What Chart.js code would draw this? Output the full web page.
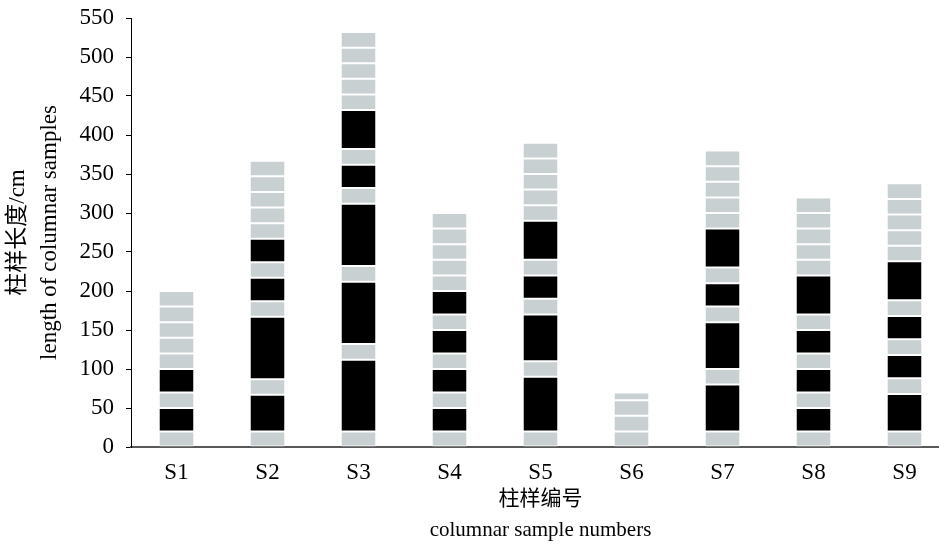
<!DOCTYPE html>
<html>
<head>
<meta charset="utf-8">
<script src="https://cdn.jsdelivr.net/npm/chart.js@4"></script>
<style>
  html, body { margin: 0; padding: 0; background: #fff; overflow: hidden; }
  #wrap { width: 950px; height: 549px; }
</style>
</head>
<body>
<div id="wrap"><canvas id="bar" width="950" height="549"></canvas></div>
<script>
var samples = ["S1", "S2", "S3", "S4", "S5", "S6", "S7", "S8", "S9"];
var yTicks = [0, 50, 100, 150, 200, 250, 300, 350, 400, 450, 500, 550];

// segment lengths (cm) from the bottom of each column, and their kind (g = grey, b = black)
var segS1 = [20, 30, 20, 30, 20, 20, 20, 20, 20];
var kindS1 = ["g", "b", "g", "b", "g", "g", "g", "g", "g"];
var segS2 = [20, 47, 20, 80, 20, 30, 20, 30, 20, 20, 20, 20, 20];
var kindS2 = ["g", "b", "g", "b", "g", "b", "g", "b", "g", "g", "g", "g", "g"];
var segS3 = [20, 92, 20, 80, 20, 80, 20, 30, 20, 50, 20, 20, 20, 20, 20];
var kindS3 = ["g", "b", "g", "b", "g", "b", "g", "b", "g", "b", "g", "g", "g", "g", "g"];
var segS4 = [20, 30, 20, 30, 20, 30, 20, 30, 20, 20, 20, 20, 20];
var kindS4 = ["g", "b", "g", "b", "g", "b", "g", "b", "g", "g", "g", "g", "g"];
var segS5 = [20, 70, 20, 60, 20, 30, 20, 50, 20, 20, 20, 20, 20];
var kindS5 = ["g", "b", "g", "b", "g", "b", "g", "b", "g", "g", "g", "g", "g"];
var segS6 = [20, 20, 20, 10];
var kindS6 = ["g", "g", "g", "g"];
var segS7 = [20, 60, 20, 60, 20, 30, 20, 50, 20, 20, 20, 20, 20];
var kindS7 = ["g", "b", "g", "b", "g", "b", "g", "b", "g", "g", "g", "g", "g"];
var segS8 = [20, 30, 20, 30, 20, 30, 20, 50, 20, 20, 20, 20, 20];
var kindS8 = ["g", "b", "g", "b", "g", "b", "g", "b", "g", "g", "g", "g", "g"];
var segS9 = [20, 48, 20, 30, 20, 30, 20, 50, 20, 20, 20, 20, 20];
var kindS9 = ["g", "b", "g", "b", "g", "b", "g", "b", "g", "g", "g", "g", "g"];

var segs = [segS1, segS2, segS3, segS4, segS5, segS6, segS7, segS8, segS9];
var kinds = [kindS1, kindS2, kindS3, kindS4, kindS5, kindS6, kindS7, kindS8, kindS9];
var kindColor = { g: "#c8d0d2", b: "#000000" };

var serif = "'Liberation Serif', 'Times New Roman', 'Noto Sans CJK SC', serif";

var layers = Math.max.apply(null, segs.map(function (s) { return s.length; }));
var datasets = [];
for (var i = 0; i < layers; i++) {
    datasets.push({
        label: "layer " + (i + 1),
        data: segs.map(function (s) { return i < s.length ? s[i] : null; }),
        backgroundColor: kinds.map(function (k) { return i < k.length ? kindColor[k[i]] : "transparent"; }),
        borderColor: "#ffffff",
        borderWidth: { top: 1, bottom: 1, left: 0, right: 0 },
        borderSkipped: false,
        categoryPercentage: 1,
        barPercentage: 0.374,
    });
}

var ctx = document.getElementById("bar").getContext("2d");
// @ts-ignore
var chart = new Chart(ctx, {
    type: "bar",
    data: { labels: samples, datasets: datasets },
    options: {
        responsive: false,
        animation: false,
        layout: { padding: { top: 18, right: 0, left: 0, bottom: 0 } },
        plugins: {
            legend: { display: false },
            tooltip: { enabled: false },
        },
        scales: {
            x: {
                stacked: true,
                grid: { display: false },
                border: { display: true, color: "#595959", width: 2 },
                ticks: {
                    color: "#000",
                    padding: 4,
                    font: { family: serif, size: 23 },
                },
                title: {
                    display: true,
                    text: ["柱样编号", "columnar sample numbers"],
                    color: "#000",
                    font: { family: serif, size: 21, lineHeight: 1.43 },
                    padding: { top: 0, bottom: 4 },
                },
                afterFit: function (axis) { axis.height = 102; },
            },
            y: {
                stacked: true,
                min: 0,
                max: 550,
                afterBuildTicks: function (axis) {
                    axis.ticks = yTicks.map(function (v) { return { value: v }; });
                },
                grid: {
                    drawOnChartArea: false,
                    drawTicks: true,
                    tickLength: 5,
                    color: "#000",
                },
                border: { display: true, color: "#000", width: 1 },
                ticks: {
                    color: "#000",
                    padding: 12,
                    font: { family: serif, size: 23 },
                },
                title: {
                    display: true,
                    text: ["柱样长度/cm", "length of columnar samples"],
                    color: "#000",
                    font: { family: serif, size: 23, lineHeight: 1.39 },
                    padding: { top: 2, bottom: 0 },
                },
                afterFit: function (axis) {
                    axis.width = 131;
                    axis.paddingTop = 0;
                    axis.paddingBottom = 0;
                },
            },
        },
    },
});
</script>
</body>
</html>
